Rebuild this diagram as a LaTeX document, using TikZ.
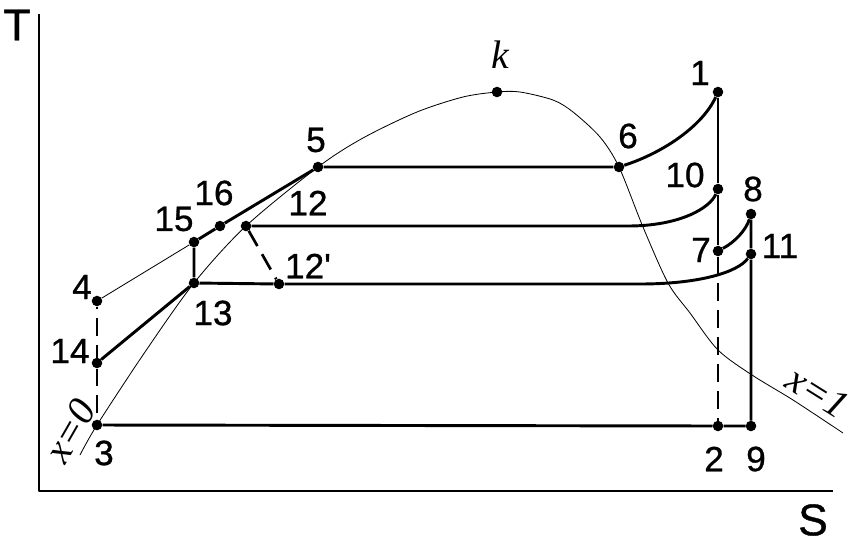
\documentclass[tikz,border=0pt]{standalone}
\usepackage{fontspec}
\setmainfont{Liberation Serif}
\setsansfont{Liberation Sans}
\newfontfamily\lblfont[FakeBold=0.8]{Liberation Sans}
\usepackage{tikz}
\usetikzlibrary{arrows,positioning,calc}
\tikzstyle{vertex}=[fill=black,circle,minimum size=9pt,inner sep=0pt]
\tikzstyle{lbl}=[font=\lblfont\fontsize{30}{30}\selectfont,inner sep=0pt]
\tikzstyle{axlbl}=[font=\lblfont\fontsize{38}{38}\selectfont,inner sep=0pt]
\tikzstyle{itlbl}=[font=\itshape\fontsize{34}{34}\selectfont,inner sep=0pt]
\tikzstyle{sat}=[line width=0.7pt]
\tikzstyle{proc}=[line width=2.5pt]
\tikzstyle{dsh}=[line width=2.3pt,dash pattern=on 15pt off 8pt]

\begin{document}
\begin{tikzpicture}[x=0.03cm,y=-0.03cm,line join=round]
\useasboundingbox (0,0) rectangle (861,550);
% axes
\coordinate (ty) at (39,14);
\coordinate (o) at (39,491);
\coordinate (sx) at (833,491);
\draw[line width=1.4pt] (ty) -- (o) -- (sx);
\node[axlbl] (T) at (17,25) {T};
\node[axlbl] (S) at (813,520) {S};
% saturation curve
\draw[sat] plot[smooth] coordinates {(80,455) (97,425) (145,352) (194,283) (246,226) (318,167)
  (363,138) (417,112) (463,97) (497,92) (520,92) (553,100) (573,112) (600,137) (619,167)
  (643,227) (668,283) (690,313) (718,350) (752,375) (793,400) (843,433)};
% state points
\node[vertex] (n1) at (718,92) {};
\node[vertex] (n2) at (718,426) {};
\node[vertex] (n3) at (97,425) {};
\node[vertex] (n4) at (97,301) {};
\node[vertex] (n5) at (318,167) {};
\node[vertex] (n6) at (619,167) {};
\node[vertex] (n7) at (718,251) {};
\node[vertex] (n8) at (751,214) {};
\node[vertex] (n9) at (751,426) {};
\node[vertex] (n10) at (718,189) {};
\node[vertex] (n11) at (751,254) {};
\node[vertex] (n12) at (246,226) {};
\node[vertex] (n12p) at (279,284) {};
\node[vertex] (n13) at (194,283) {};
\node[vertex] (n14) at (97,363) {};
\node[vertex] (n15) at (194,242) {};
\node[vertex] (n16) at (220,226) {};
\node[vertex] (nk) at (497,92) {};
\coordinate (c10) at (628,226);
\coordinate (c11) at (640,284);
% process lines
\draw[proc] (n3) -- (n2) -- (n9) -- (n11) -- (n8);
\draw[proc] (n1) -- (n10) -- (n7);
\draw[proc] (n14) -- (n13) -- (n15) -- (n16) -- (n5) -- (n6);
\draw[proc] (n6) .. controls (665,152) and (703,125) .. (n1);
\draw[proc] (n12) -- (c10) .. controls (680,226) and (710,208) .. (n10);
\draw[proc] (n13) -- (n12p) -- (c11) .. controls (700,284) and (738,272) .. (n11);
\draw[proc] (n7) .. controls (735,242) and (746,230) .. (n8);
\draw[sat] (n4) -- (n15);
\draw[dsh] (n7) -- (n2);
\draw[dsh] (n12) -- (n12p);
\draw[dsh,dash phase=-10pt] (n4) -- (n14);
\draw[dsh] (n14) -- (n3);
% labels
\node[lbl] (l1) at (700,73) {1};
\node[lbl] (l2) at (714,459) {2};
\node[lbl] (l3) at (104,453) {3};
\node[lbl] (l4) at (82,287) {4};
\node[lbl] (l5) at (316,140) {5};
\node[lbl] (l6) at (628,136) {6};
\node[lbl] (l7) at (701,250) {7};
\node[lbl] (l8) at (753,189) {8};
\node[lbl] (l9) at (756,459) {9};
\node[lbl] (l10) at (685,175) {10};
\node[lbl] (l11) at (780,246) {11};
\node[lbl] (l12) at (308,203) {12};
\node[lbl] (l12p) at (308,266) {12\textquotesingle};
\node[lbl] (l13) at (213,313) {13};
\node[lbl] (l14) at (70,351) {14};
\node[lbl] (l15) at (174,219) {15};
\node[lbl] (l16) at (214,193) {16};
\node[itlbl] (lk) at (500,55) {k};
\node[itlbl,rotate=60] (lx0) at (70,431) {x=0};
\node[itlbl,rotate=-32] (lx1) at (818,392) {x=1};
\end{tikzpicture}
\end{document}
